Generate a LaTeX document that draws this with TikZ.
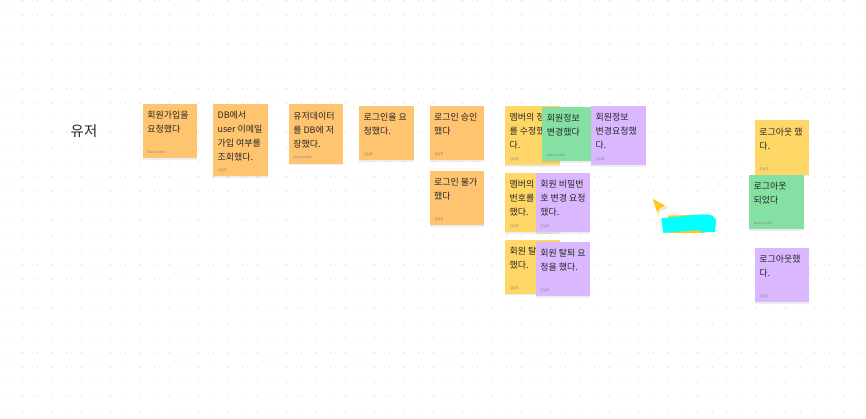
\documentclass[tikz,border=0pt]{standalone}
\usepackage{fontspec}
\setmainfont{Noto Sans CJK KR}
\usetikzlibrary{positioning}
\usetikzlibrary{shadows}

\definecolor{noteorange}{HTML}{FFC470}
\definecolor{noteyellow}{HTML}{FFD766}
\definecolor{notegreen}{HTML}{85E0A3}
\definecolor{notepurple}{HTML}{D9B8FF}
\definecolor{griddot}{HTML}{D2D2D2}
\definecolor{inkcyan}{HTML}{00FFFF}
\definecolor{inkyellow}{HTML}{FFC91F}

\tikzset{
	sticky/.style={anchor=north west, inner sep=0, outer sep=0, minimum width=1.095cm, minimum height=1.09cm,
		drop shadow={shadow xshift=0cm, shadow yshift=-0.025cm, opacity=.07, fill=black}},
	notetext/.style={below right=0.14cm and 0.085cm of #1.north west, inner sep=0, align=left, text=black!85,
		font=\fontsize{5.1}{7.97}\selectfont},
	notetag/.style={above right=0.08cm and 0.09cm of #1.south west, inner sep=0, text=black!50,
		font=\fontsize{1.9}{2.2}\selectfont}
}

\begin{document}
\begin{tikzpicture}[x=0.02cm, y=-0.02cm]
	\useasboundingbox (0, 0) rectangle (866, 419);
	\fill[white] (0, 0) rectangle (866, 419);

	\foreach \i in {0,...,58}
		\foreach \j in {0,...,28}
			\fill[griddot] ({8+14.67*\i}, {0.5+14.67*\j}) circle (0.6);

	\node[inner sep=0, text=black!85, font=\fontsize{8.2}{10}\selectfont] (user) at (84, 131) {유저};

	\node[sticky, fill=noteorange] (n1) at (142.7, 104) {};
	\node[notetext=n1] (n1text) {회원가입을\\요청했다};
	\node[notetag=n1] (n1tag) {Nam.ju Kim};

	\node[sticky, fill=noteorange, minimum height=1.45cm] (n2) at (213, 104) {};
	\node[notetext=n2] (n2text) {DB에서\\user 이메일\\가입 여부를\\조회했다.};
	\node[notetag=n2] (n2tag) {김남주};

	\node[sticky, fill=noteorange, minimum height=1.19cm] (n3) at (288.7, 104.3) {};
	\node[notetext=n3] (n3text) {유저데이터\\를 DB에 저\\장했다.};
	\node[notetag=n3] (n3tag) {Nam.ju Kim};

	\node[sticky, fill=noteorange] (n4) at (359, 106) {};
	\node[notetext=n4] (n4text) {로그인을 요\\청했다.};
	\node[notetag=n4] (n4tag) {김남주};

	\node[sticky, fill=noteorange] (n5) at (429.5, 106) {};
	\node[notetext=n5] (n5text) {로그인 승인\\했다};
	\node[notetag=n5] (n5tag) {김남주};

	\node[sticky, fill=noteorange] (n6) at (429.5, 171) {};
	\node[notetext=n6] (n6text) {로그인 불가\\했다};
	\node[notetag=n6] (n6tag) {김남주};

	\node[sticky, fill=noteyellow, minimum height=1.19cm] (y1) at (505, 106) {};
	\node[notetext=y1] (y1text) {멤버의 정\\를 수정했\\다.};
	\node[notetag=y1] (y1tag) {김남주};

	\node[sticky, fill=notegreen] (g1) at (542.3, 107) {};
	\node[notetext=g1] (g1text) {회원정보\\변경했다};
	\node[notetag=g1] (g1tag) {Nam.ju Kim};

	\node[sticky, fill=notepurple, minimum height=1.19cm] (p1) at (591, 106) {};
	\node[notetext=p1] (p1text) {회원정보\\변경요청했\\다.};
	\node[notetag=p1] (p1tag) {김남주};

	\node[sticky, fill=noteyellow, minimum height=1.19cm] (y2) at (505, 173) {};
	\node[notetext=y2] (y2text) {멤버의\\번호를\\했다.};
	\node[notetag=y2] (y2tag) {김남주};

	\node[sticky, fill=notepurple, minimum height=1.19cm] (p2) at (535.7, 173) {};
	\node[notetext=p2] (p2text) {회원 비밀번\\호 변경 요청\\했다.};
	\node[notetag=p2] (p2tag) {김남주};

	\node[sticky, fill=noteyellow] (y3) at (505, 239.7) {};
	\node[notetext=y3] (y3text) {회원 탈\\했다.};
	\node[notetag=y3] (y3tag) {김남주};

	\node[sticky, fill=notepurple] (p3) at (535.7, 242) {};
	\node[notetext=p3] (p3text) {회원 탈퇴 요\\청을 했다.};
	\node[notetag=p3] (p3tag) {김남주};

	\node[sticky, fill=noteyellow] (y4) at (754.7, 120.3) {};
	\node[notetext=y4] (y4text) {로그아웃 했\\다.};
	\node[notetag=y4] (y4tag) {김남주};

	\node[sticky, fill=notegreen] (g2) at (749, 175) {};
	\node[notetext=g2] (g2text) {로그아웃\\되었다};
	\node[notetag=g2] (g2tag) {Nam.ju Kim};

	\node[sticky, fill=notepurple] (p4) at (754.7, 248) {};
	\node[notetext=p4] (p4text) {로그아웃했\\다.};
	\node[notetag=p4] (p4tag) {김남주};

	% pointer and marker stroke
	\fill[inkyellow] (668, 215.5) -- (695, 215) -- (705, 232.8) -- (668, 232.8) -- cycle;
	\fill[inkcyan] (661.3, 218.3) -- (695, 215) .. controls (704, 214) and (716, 213) .. (716, 222)
		-- (715, 232) -- (700.5, 232.3) -- (699, 230) -- (668, 232.5) -- (663.3, 233) -- cycle;
	\fill[black, opacity=.1] (652, 199) -- (668, 208) -- (661, 211) -- (658, 216.5) -- cycle;
	\draw[white, line width=0.5pt, line join=round, fill=inkyellow] (651.7, 197.5) -- (667, 206)
		-- (660.5, 208.7) -- (657.3, 214.5) -- cycle;
\end{tikzpicture}
\end{document}
